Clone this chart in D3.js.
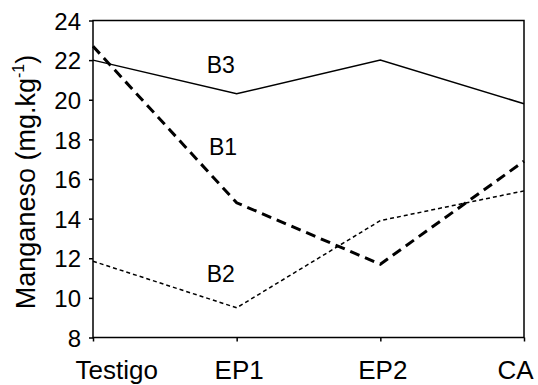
<!DOCTYPE html>
<html><head><meta charset="utf-8">
<script src="https://cdn.jsdelivr.net/npm/d3@7"></script>
<style>body{margin:0;background:#fff}svg{display:block}text{font-family:"Liberation Sans",Arial,sans-serif;fill:#000}</style>
</head><body>
<svg id="c" width="538" height="385"></svg>
<script>
const categories = ["Testigo", "EP1", "EP2", "CA"];
const b1 = [22.7, 14.8, 11.7, 16.9];
const b2 = [11.85, 9.5, 13.9, 15.4];
const b3 = [22.0, 20.3, 22.0, 19.8];
const yTicks = [8, 10, 12, 14, 16, 18, 20, 22, 24];
const seriesNames = ["B1", "B2", "B3"];
const labelPos = [0.905, 0.89, 0.89];   // position along category axis (in steps)
const labelVal = [17.2, 10.8, 21.33];   // value at label baseline

const svg = d3.select("#c");
const L = 93, R = 524, T = 20.5, B = 337.5;
const x = d3.scalePoint().domain(categories).range([L, R]);
const y = d3.scaleLinear().domain([8, 24]).range([B, T]);

// frame
svg.append("rect").attr("x", L).attr("y", T).attr("width", R - L).attr("height", B - T)
  .attr("fill", "none").attr("stroke", "#000").attr("stroke-width", 1.5);

// y axis
const ya = svg.append("g").attr("transform", `translate(${L},0)`)
  .call(d3.axisLeft(y).tickValues(yTicks).tickSize(4).tickPadding(8).tickFormat(d3.format("d")));
ya.select(".domain").remove();
ya.selectAll("line").attr("stroke", "#000").attr("stroke-width", 1.5);
ya.selectAll("text").attr("font-size", 24).style("font-family", "Liberation Sans, Arial, sans-serif").attr("dy", "0.36em");

// x axis
const xa = svg.append("g").attr("transform", `translate(0,${B})`)
  .call(d3.axisBottom(x).tickSize(4).tickPadding(20));
xa.select(".domain").remove();
xa.selectAll("line").attr("stroke", "#000").attr("stroke-width", 1.5);
xa.selectAll("text").attr("font-size", 26).style("font-family", "Liberation Sans, Arial, sans-serif")
  .attr("dy", "0.66em")
  .attr("text-anchor", (d, i) => i === 0 ? "start" : i === categories.length - 1 ? "end" : "middle")
  .attr("dx", (d, i) => i === 0 ? -18 : i === categories.length - 1 ? 9 : 2);

// y title
svg.append("text").attr("transform", `translate(35,${182}) rotate(-90)`)
  .attr("text-anchor", "middle").attr("font-size", 27)
  .html('Manganeso (mg.kg<tspan font-size="16" dy="-11">-1</tspan><tspan dy="11">)</tspan>');

const line = d3.line().x((d, i) => x(categories[i])).y(d => y(d));
svg.append("path").datum(b3).attr("d", line).attr("fill", "none").attr("stroke", "#000").attr("stroke-width", 1.5);
svg.append("path").datum(b1).attr("d", line).attr("fill", "none").attr("stroke", "#000").attr("stroke-width", 3).attr("stroke-dasharray", "10,6");
svg.append("path").datum(b2).attr("d", line).attr("fill", "none").attr("stroke", "#000").attr("stroke-width", 1.5).attr("stroke-dasharray", "4,3");

// series labels
const step = x.step();
svg.selectAll(".lab").data(seriesNames).enter().append("text")
  .attr("x", (d, i) => L + labelPos[i] * step)
  .attr("y", (d, i) => y(labelVal[i]))
  .attr("text-anchor", "middle").attr("font-size", 23)
  .text(d => d);
</script>
</body></html>
